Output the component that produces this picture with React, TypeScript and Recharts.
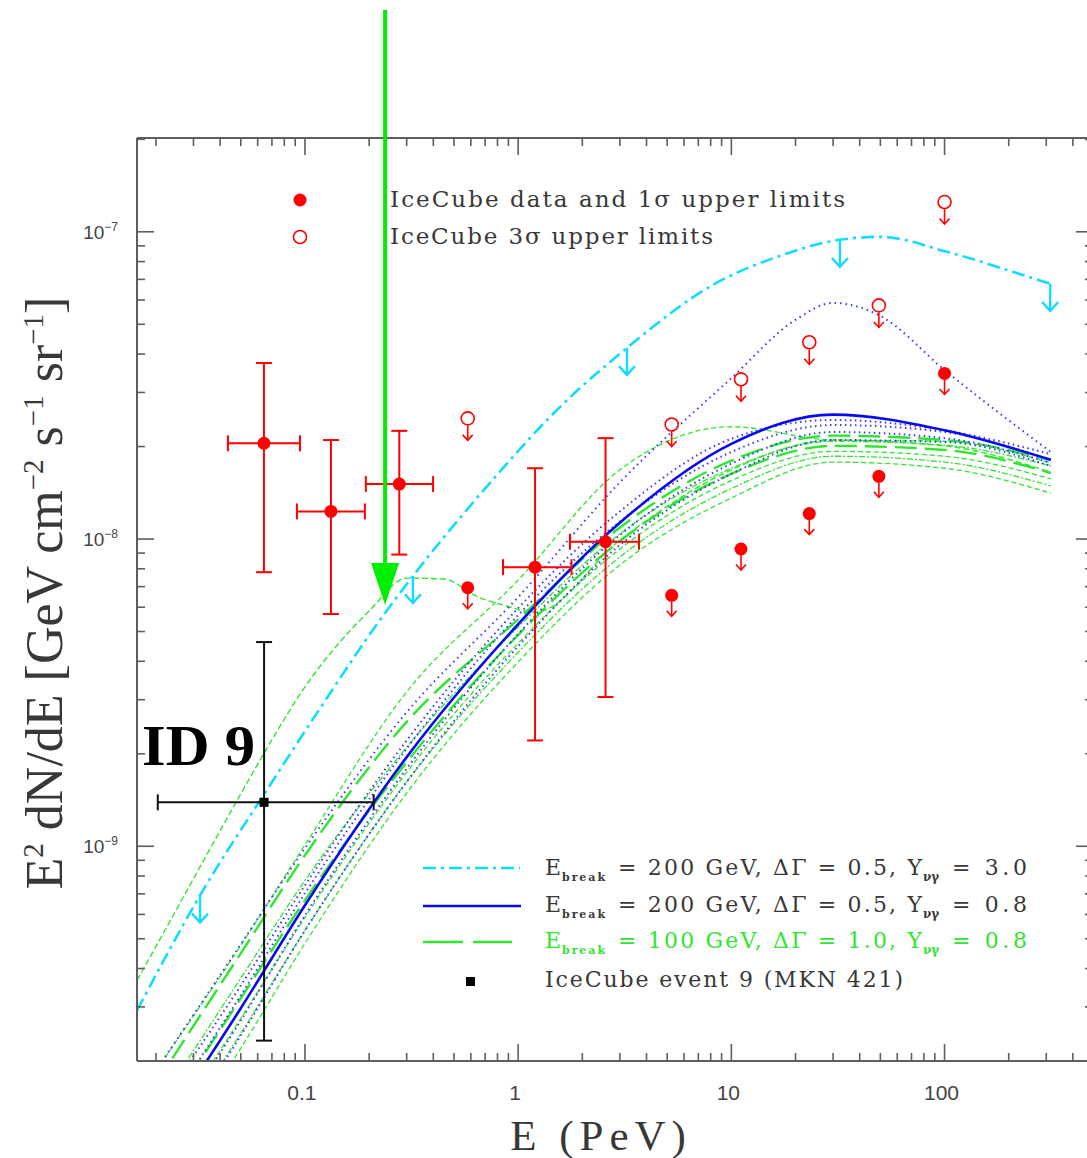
import React from "react";
import { ComposedChart, Line, Scatter, XAxis, YAxis, ErrorBar } from "recharts";

// ---- data (E in PeV, flux in GeV cm^-2 s^-1 sr^-1) ----

// shared energy grid for the model bundle
const gridE = [0.02, 0.05, 0.1, 0.3, 1, 3, 10, 30, 100, 315];

// E_break = 200 GeV, dG = 0.5, Y = 0.8 (solid blue)
const blueSolid = [1.12e-10, 2.97e-10, 6.43e-10, 1.95e-9, 5.28e-9, 1.13e-8, 2.04e-8, 2.54e-8, 2.26e-8, 1.81e-8];

// blue dotted realisations
const blueDotA = [1.38e-10, 3.52e-10, 7.46e-10, 2.21e-9, 5.96e-9, 1.23e-8, 2.12e-8, 2.44e-8, 2.26e-8, 1.89e-8];
const blueDotB = [1.23e-10, 3.27e-10, 7.03e-10, 2.08e-9, 5.65e-9, 1.14e-8, 1.92e-8, 2.35e-8, 2.23e-8, 1.81e-8];
const blueDotC = [1.02e-10, 2.71e-10, 5.96e-10, 1.79e-9, 4.91e-9, 1.03e-8, 1.76e-8, 2.23e-8, 2.13e-8, 1.77e-8];
const blueDotD = [9.14e-11, 2.42e-10, 5.32e-10, 1.62e-9, 4.48e-9, 9.56e-9, 1.63e-8, 2.1e-8, 2.07e-8, 1.73e-8];

// the high blue dotted curve
const blueHighE = [0.02, 0.05, 0.1, 0.3, 1, 3, 10, 20, 30, 50, 100, 315];
const blueHigh = [1.86e-10, 4.8e-10, 9.85e-10, 2.73e-9, 6.47e-9, 1.53e-8, 3.34e-8, 5.17e-8, 5.87e-8, 5.32e-8, 3.55e-8, 1.92e-8];

// green dashed realisations (E_break = 100 GeV, dG = 1.0)
const greenUp = [1.86e-10, 4.76e-10, 1.01e-9, 3.18e-9, 7.35e-9, 1.68e-8, 2.32e-8, 2.1e-8, 2.08e-8, 1.77e-8];
const greenA = [1.69e-10, 4.48e-10, 9.35e-10, 2.54e-9, 5.48e-9, 1.09e-8, 1.8e-8, 2.17e-8, 2.1e-8, 1.81e-8];
const greenB = [1.4e-10, 3.72e-10, 7.74e-10, 2.1e-9, 5.17e-9, 1.04e-8, 1.7e-8, 2.08e-8, 2.02e-8, 1.73e-8];
const greenC = [1.21e-10, 3.2e-10, 6.67e-10, 1.88e-9, 4.87e-9, 9.85e-9, 1.63e-8, 2.01e-8, 1.95e-8, 1.64e-8];
const greenD = [1.04e-10, 2.75e-10, 5.87e-10, 1.74e-9, 4.58e-9, 9.28e-9, 1.55e-8, 1.93e-8, 1.86e-8, 1.57e-8];
const greenE = [9.27e-11, 2.46e-10, 5.32e-10, 1.62e-9, 4.28e-9, 8.74e-9, 1.46e-8, 1.86e-8, 1.78e-8, 1.49e-8];
const greenF = [8.29e-11, 2.2e-10, 4.83e-10, 1.49e-9, 3.98e-9, 8.23e-9, 1.36e-8, 1.78e-8, 1.7e-8, 1.41e-8];

// green curve with the low-energy bump
const greenBumpE = [0.0163, 0.02, 0.05, 0.0635, 0.1, 0.2, 0.3, 0.45, 0.65, 0.85, 1.2, 3, 10, 30, 100, 315];
const greenBump = [3.66e-10, 4.72e-10, 1.48e-9, 1.98e-9, 3.3e-9, 5.83e-9, 7.46e-9, 7.41e-9, 6.47e-9, 6.1e-9, 5.78e-9, 9.92e-9, 1.68e-8, 2.1e-8, 2.01e-8, 1.65e-8];

// E_break = 200 GeV, dG = 0.5, Y = 3.0 (cyan dash-dot, upper limit)
const cyanE = [0.0163, 0.0322, 0.0685, 0.1228, 0.2248, 0.321, 0.6, 0.886, 1.365, 1.95, 2.7, 3.24, 8.2, 16.9, 32.3, 49.8, 102.6, 209, 313];
const cyanF = [2.92e-10, 6.92e-10, 1.58e-9, 2.94e-9, 5.45e-9, 7.58e-9, 1.29e-8, 1.76e-8, 2.44e-8, 3.1e-8, 3.77e-8, 4.19e-8, 6.72e-8, 8.35e-8, 9.42e-8, 9.63e-8, 8.61e-8, 7.41e-8, 6.77e-8];
const cyanArrowE = [0.0322, 0.321, 3.24, 32.3, 313];
const cyanArrowF = [6.92e-10, 7.58e-9, 4.19e-8, 9.42e-8, 6.77e-8];

// IceCube data points with error bars
const redE = [0.0642, 0.1324, 0.277, 1.2, 2.57];
const redF = [2.05e-8, 1.23e-8, 1.51e-8, 8.1e-9, 9.8e-9];
const redELo = [0.0435, 0.0917, 0.193, 0.849, 1.75];
const redEHi = [0.0948, 0.191, 0.399, 1.78, 3.69];
const redFLo = [7.8e-9, 5.7e-9, 8.9e-9, 2.21e-9, 3.06e-9];
const redFHi = [3.74e-8, 2.1e-8, 2.25e-8, 1.7e-8, 2.13e-8];

// IceCube 1 sigma upper limits (filled) and 3 sigma (open)
const ulE = [0.58, 5.25, 11.1, 23.2, 49.2, 100];
const ul1F = [6.94e-9, 6.56e-9, 9.28e-9, 1.21e-8, 1.6e-8, 3.46e-8];
const ul3F = [2.47e-8, 2.36e-8, 3.31e-8, 4.37e-8, 5.76e-8, 1.25e-7];

// IceCube event 9 (MKN 421)
const ev9E = [0.0643];
const ev9F = [1.39e-9];
const ev9ELo = [0.0204];
const ev9EHi = [0.21];
const ev9FLo = [2.33e-10];
const ev9FHi = [4.62e-9];

// green pointer annotation target
const pointerE = [0.2376];
const pointerF = [6.1e-9];

// ticks
const xMajorTicks = [0.1, 1, 10, 100];
const xTickLabels = ["0.1", "1", "10", "100"];
const xMinorTicks = [
  0.02, 0.03, 0.04, 0.05, 0.06, 0.07, 0.08, 0.09,
  0.2, 0.3, 0.4, 0.5, 0.6, 0.7, 0.8, 0.9,
  2, 3, 4, 5, 6, 7, 8, 9,
  20, 30, 40, 50, 60, 70, 80, 90,
  200, 300, 400,
];
const yMajorTicks = [1e-9, 1e-8, 1e-7];
const yTickExps = ["\u22129", "\u22128", "\u22127"];
const yMinorTicks = [
  3e-10, 4e-10, 5e-10, 6e-10, 7e-10, 8e-10, 9e-10,
  2e-9, 3e-9, 4e-9, 5e-9, 6e-9, 7e-9, 8e-9, 9e-9,
  2e-8, 3e-8, 4e-8, 5e-8, 6e-8, 7e-8, 8e-8, 9e-8,
  2e-7,
];

// ---- layout / style ----
const CHART_W = 1095;
const CHART_H = 1158;
// axes take 1px each, so the plot box is 137..1093 x 138..1061
const MARGIN = { top: 137, right: 1, bottom: 96, left: 136 };
const PLOT_L = 137;
const PLOT_R = 1093;
const PLOT_T = 138;
const PLOT_B = 1061;
const X_DOMAIN = [0.0163, 497];
const Y_DOMAIN = [2e-10, 2.02e-7];

const FRAME = "#5e5e5e";
const RED = "#ff0000";
const CYAN = "#10dcff";
const BLUE = "#0a0af0";
const BLUE_DOT = "#3a3aff";
const GREEN = "#2ee62e";
const TEXT = "#383838";
const SERIF = "'Liberation Serif', 'DejaVu Serif', serif";
const LEGEND_FONT = "'DejaVu Serif', 'Liberation Serif', serif";
const SANS = "'Liberation Sans', Arial, sans-serif";

const rows = (xs: number[], ys: number[]) => xs.map((x, i) => ({ x, y: ys[i] }));

const redRows = redE.map((x, i) => ({
  x,
  y: redF[i],
  ex: [x - redELo[i], redEHi[i] - x],
  ey: [redF[i] - redFLo[i], redFHi[i] - redF[i]],
}));
const ev9Rows = ev9E.map((x, i) => ({
  x,
  y: ev9F[i],
  ex: [x - ev9ELo[i], ev9EHi[i] - x],
  ey: [ev9F[i] - ev9FLo[i], ev9FHi[i] - ev9F[i]],
}));

// ---- tick renderers (inward ticks, like the original frame) ----
const xTick = (side: "bottom" | "top") => (props: any) => {
  const { x, payload } = props;
  const v = payload.value;
  const major = xMajorTicks.includes(v);
  const len = major ? 17 : 8;
  const y0 = side === "bottom" ? PLOT_B : PLOT_T;
  const dir = side === "bottom" ? -1 : 1;
  return (
    <g>
      <line x1={x} x2={x} y1={y0} y2={y0 + dir * len} stroke={FRAME} strokeWidth={1.6} />
      {side === "bottom" && major && (
        <text x={x - 3} y={PLOT_B + 39} textAnchor="middle" fontSize={21} fill="#444" fontFamily={SANS}>
          {xTickLabels[xMajorTicks.indexOf(v)]}
        </text>
      )}
    </g>
  );
};

const yTick = (side: "left" | "right") => (props: any) => {
  const { y, payload } = props;
  const v = payload.value;
  const major = yMajorTicks.includes(v);
  const len = major ? 17 : 8;
  const x0 = side === "left" ? PLOT_L : PLOT_R;
  const dir = side === "left" ? 1 : -1;
  return (
    <g>
      <line x1={x0} x2={x0 + dir * len} y1={y} y2={y} stroke={FRAME} strokeWidth={1.6} />
      {side === "left" && major && (
        <text x={118} y={y + 7} textAnchor="end" fontSize={19} fill="#444" fontFamily={SANS}>
          10
          <tspan dy={-8} fontSize={12}>
            {yTickExps[yMajorTicks.indexOf(v)]}
          </tspan>
        </text>
      )}
    </g>
  );
};

// ---- marker shapes ----
const DataDot = (p: any) => <circle cx={p.cx} cy={p.cy} r={6.5} fill={RED} />;

const DownArrow = ({ cx, top, tip, color, w, half }: any) => (
  <g stroke={color} strokeWidth={w} fill="none">
    <line x1={cx} y1={top} x2={cx} y2={tip} />
    <polyline points={`${cx - half},${tip - half * 1.1} ${cx},${tip} ${cx + half},${tip - half * 1.1}`} />
  </g>
);

const UL1 = (p: any) => (
  <g>
    <circle cx={p.cx} cy={p.cy} r={6.5} fill={RED} />
    <DownArrow cx={p.cx} top={p.cy + 6} tip={p.cy + 21} color={RED} w={1.6} half={5} />
  </g>
);

const UL3 = (p: any) => (
  <g>
    <circle cx={p.cx} cy={p.cy} r={6.5} fill="none" stroke={RED} strokeWidth={1.6} />
    <DownArrow cx={p.cx} top={p.cy + 7} tip={p.cy + 22} color={RED} w={1.6} half={5} />
  </g>
);

const CyanArrow = (p: any) => (
  <DownArrow cx={p.cx} top={p.cy} tip={p.cy + 27} color={CYAN} w={2.4} half={8} />
);

const Ev9Marker = (p: any) => <rect x={p.cx - 4.5} y={p.cy - 4.5} width={9} height={9} fill="#000" />;

const Pointer = (p: any) => (
  <g>
    <line x1={p.cx} y1={10} x2={p.cx} y2={p.cy - 38} stroke="#00ee00" strokeWidth={4} />
    <polygon points={`${p.cx - 14},${p.cy - 42} ${p.cx + 14},${p.cy - 42} ${p.cx},${p.cy}`} fill="#00ee00" />
  </g>
);

// ---- curve helper ----
const curve = (key: string, xs: number[], ys: number[], stroke: string, width: number, dash?: string) => (
  <Line
    key={key}
    data={rows(xs, ys)}
    dataKey="y"
    type="monotone"
    stroke={stroke}
    strokeWidth={width}
    strokeDasharray={dash}
    dot={false}
    activeDot={false}
    isAnimationActive={false}
  />
);

// ---- legend / annotation overlay ----
const legendRows = [
  { y: 875, val: "= 200 GeV, ΔΓ = 0.5, Y", tail: "= 3.0", color: TEXT },
  { y: 912, val: "= 200 GeV, ΔΓ = 0.5, Y", tail: "= 0.8", color: TEXT },
  { y: 948, val: "= 100 GeV, ΔΓ = 1.0, Y", tail: "= 0.8", color: GREEN },
];

const Overlay = () => (
  <svg width={1087} height={1158} style={{ position: "absolute", left: 0, top: 0, pointerEvents: "none" }}>
    {/* top legend */}
    <circle cx={300} cy={200} r={6.5} fill={RED} />
    <circle cx={300} cy={237} r={6.5} fill="none" stroke={RED} strokeWidth={1.6} />
    <text x={390} y={207} fontSize={23} fill={TEXT} fontFamily={LEGEND_FONT} textLength={455} lengthAdjust="spacing">
      IceCube data and 1σ upper limits
    </text>
    <text x={390} y={244} fontSize={23} fill={TEXT} fontFamily={LEGEND_FONT} textLength={323} lengthAdjust="spacing">
      IceCube 3σ upper limits
    </text>

    {/* bottom legend */}
    <line x1={423} x2={520} y1={868} y2={868} stroke={CYAN} strokeWidth={2.4} strokeDasharray="13 5 3 5" />
    <line x1={423} x2={521} y1={906} y2={906} stroke={BLUE} strokeWidth={2.6} />
    <line x1={423} x2={512} y1={942} y2={942} stroke={GREEN} strokeWidth={2.6} strokeDasharray="40 10" />
    <rect x={466} y={977} width={9} height={9} fill="#000" />
    {legendRows.map((r, i) => (
      <g key={i} fill={r.color} fontFamily={LEGEND_FONT}>
        <text x={545} y={r.y} fontSize={22}>E</text>
        <text x={562} y={r.y + 6} fontSize={11} fontWeight="bold" textLength={43} lengthAdjust="spacing">break</text>
        <text x={618} y={r.y} fontSize={22} textLength={304} lengthAdjust="spacing">{r.val}</text>
        <text x={923} y={r.y + 6} fontSize={12} fontWeight="bold">νγ</text>
        <text x={952} y={r.y} fontSize={22} textLength={75} lengthAdjust="spacing">{r.tail}</text>
      </g>
    ))}
    <text x={545} y={987} fontSize={22} fill={TEXT} fontFamily={LEGEND_FONT} textLength={358} lengthAdjust="spacing">
      IceCube event 9 (MKN 421)
    </text>

    {/* source label */}
    <text x={142} y={765} fontSize={56} fontWeight="bold" fill="#000" fontFamily={SERIF} textLength={113} lengthAdjust="spacingAndGlyphs">
      ID 9
    </text>

    {/* axis titles */}
    <text x={601} y={1150} textAnchor="middle" fontSize={43} fill={TEXT} fontFamily={SERIF} letterSpacing={6}>
      E (PeV)
    </text>
    <text transform="translate(62,593) rotate(-90)" textAnchor="middle" fontSize={52} fill={TEXT} fontFamily={SERIF}>
      E<tspan dy={-19} fontSize={29}>2</tspan>
      <tspan dy={19}> dN/dE [GeV cm</tspan>
      <tspan dy={-19} fontSize={29}>−2</tspan>
      <tspan dy={19}> s</tspan>
      <tspan dy={-19} fontSize={29}>−1</tspan>
      <tspan dy={19}> sr</tspan>
      <tspan dy={-19} fontSize={29}>−1</tspan>
      <tspan dy={19}>]</tspan>
    </text>
  </svg>
);

const axisLine = { stroke: FRAME, strokeWidth: 2 };

export default function App() {
  return (
    <div style={{ position: "absolute", left: 0, top: 0, width: 1087, height: 1158, overflow: "hidden", background: "#fff" }}>
      <ComposedChart width={CHART_W} height={CHART_H} margin={MARGIN}>
        <XAxis
          dataKey="x"
          type="number"
          scale="log"
          domain={X_DOMAIN}
          allowDataOverflow
          ticks={[...xMinorTicks, ...xMajorTicks]}
          interval={0}
          height={1}
          tickSize={0}
          tickLine={false}
          axisLine={axisLine}
          tick={xTick("bottom")}
        />
        <XAxis
          xAxisId="top"
          orientation="top"
          dataKey="x"
          type="number"
          scale="log"
          domain={X_DOMAIN}
          ticks={[...xMinorTicks, ...xMajorTicks]}
          interval={0}
          height={1}
          tickSize={0}
          tickLine={false}
          axisLine={axisLine}
          tick={xTick("top")}
        />
        <YAxis
          type="number"
          scale="log"
          domain={Y_DOMAIN}
          allowDataOverflow
          ticks={[...yMinorTicks, ...yMajorTicks]}
          interval={0}
          width={1}
          tickSize={0}
          tickLine={false}
          axisLine={axisLine}
          tick={yTick("left")}
        />
        <YAxis
          yAxisId="right"
          orientation="right"
          type="number"
          scale="log"
          domain={Y_DOMAIN}
          ticks={[...yMinorTicks, ...yMajorTicks]}
          interval={0}
          width={1}
          tickSize={0}
          tickLine={false}
          axisLine={axisLine}
          tick={yTick("right")}
        />

        {/* green dashed bundle */}
        {curve("gF", gridE, greenF, GREEN, 1.3, "5 3")}
        {curve("gE", gridE, greenE, GREEN, 1.3, "6 2 2 2")}
        {curve("gD", gridE, greenD, GREEN, 1.3, "5 3")}
        {curve("gC", gridE, greenC, GREEN, 2.4, "22 8")}
        {curve("gB", gridE, greenB, GREEN, 1.3, "6 2 2 2")}
        {curve("gA", gridE, greenA, GREEN, 2.4, "22 8")}
        {curve("gUp", gridE, greenUp, GREEN, 1.3, "5 3")}
        {curve("gBump", greenBumpE, greenBump, GREEN, 1.4, "6 3")}

        {/* blue dotted bundle */}
        {curve("bD", gridE, blueDotD, BLUE_DOT, 2, "1.5 3.5")}
        {curve("bC", gridE, blueDotC, BLUE_DOT, 2, "1.5 3.5")}
        {curve("bB", gridE, blueDotB, BLUE_DOT, 2, "1.5 3.5")}
        {curve("bA", gridE, blueDotA, BLUE_DOT, 2, "1.5 3.5")}
        {curve("bHigh", blueHighE, blueHigh, BLUE_DOT, 2, "1.5 4")}

        {/* main curves */}
        {curve("blue", gridE, blueSolid, BLUE, 2.6)}
        {curve("cyan", cyanE, cyanF, CYAN, 2.6, "13 5 3 5")}

        <Scatter data={rows(cyanArrowE, cyanArrowF)} dataKey="y" shape={CyanArrow} isAnimationActive={false} />
        <Scatter data={rows(ulE, ul3F)} dataKey="y" shape={UL3} isAnimationActive={false} />
        <Scatter data={rows(ulE, ul1F)} dataKey="y" shape={UL1} isAnimationActive={false} />
        <Scatter data={redRows} dataKey="y" shape={DataDot} isAnimationActive={false}>
          <ErrorBar dataKey="ex" direction="x" width={8} stroke={RED} strokeWidth={2} />
          <ErrorBar dataKey="ey" direction="y" width={8} stroke={RED} strokeWidth={2} />
        </Scatter>
        <Scatter data={ev9Rows} dataKey="y" shape={Ev9Marker} isAnimationActive={false}>
          <ErrorBar dataKey="ex" direction="x" width={8} stroke="#111" strokeWidth={2} />
          <ErrorBar dataKey="ey" direction="y" width={8} stroke="#111" strokeWidth={2} />
        </Scatter>
        <Scatter
          data={rows(pointerE, pointerF)}
          dataKey="y"
          xAxisId="top"
          yAxisId="right"
          shape={Pointer}
          isAnimationActive={false}
        />
      </ComposedChart>
      <Overlay />
    </div>
  );
}
